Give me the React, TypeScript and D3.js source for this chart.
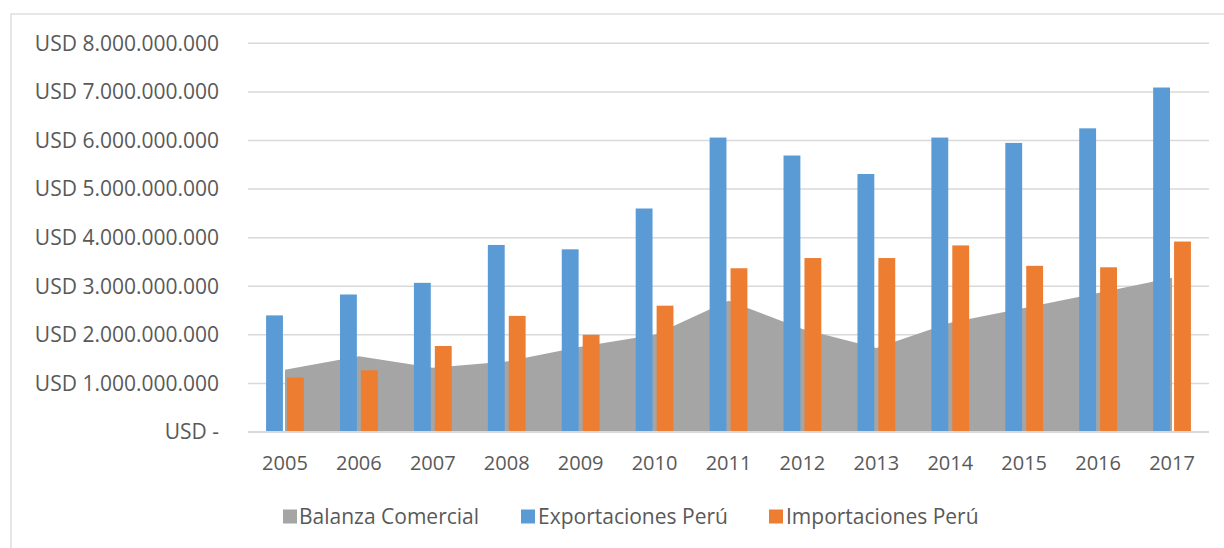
import React from "react";
import * as d3 from "d3";

const years = ["2005","2006","2007","2008","2009","2010","2011","2012","2013","2014","2015","2016","2017"];
const balanza = [1.28e9,1.56e9,1.32e9,1.45e9,1.755e9,2.0e9,2.70e9,2.12e9,1.73e9,2.25e9,2.55e9,2.86e9,3.175e9];
const exportaciones = [2.40e9,2.83e9,3.07e9,3.85e9,3.76e9,4.60e9,6.06e9,5.69e9,5.31e9,6.06e9,5.95e9,6.25e9,7.09e9];
const importaciones = [1.12e9,1.27e9,1.77e9,2.39e9,2.00e9,2.60e9,3.37e9,3.58e9,3.58e9,3.84e9,3.42e9,3.39e9,3.92e9];
const yTicks = [0,1e9,2e9,3e9,4e9,5e9,6e9,7e9,8e9];
const seriesNames = ["Balanza Comercial","Exportaciones Perú","Importaciones Perú"];
const colors = ["#a5a5a5","#5b9bd5","#ed7d31"];

const fmt = (v: number) => {
  if (v === 0) return "USD -";
  const s = Math.round(v).toString().replace(/\B(?=(\d{3})+(?!\d))/g, ".");
  return "USD " + s;
};

export default function App() {
  const W = 1224, H = 548;
  const left = 248, right = 1209, top = 43.3, bottom = 432;
  const x = d3.scaleBand<string>().domain(years).range([left, right]).paddingInner(0).paddingOuter(0);
  const y = d3.scaleLinear().domain([0, 8e9]).range([bottom, top]);
  const bw = x.bandwidth();
  const barW = bw * 0.228;
  const gap = bw * 0.055;
  const groupStart = (bw - (2 * barW + gap)) / 2;
  const cx = (i: number) => (x(years[i]) as number) + bw / 2;
  const area = d3.area<number>()
    .x((_, i) => cx(i))
    .y0(y(0))
    .y1((d) => y(d))
    .curve(d3.curveLinear);
  const font = "'Open Sans', sans-serif";
  const legendItems = [
    { sx: 283, tx: 299 },
    { sx: 521, tx: 538 },
    { sx: 769, tx: 786 },
  ];
  return (
    <svg width={W} height={H} style={{ position: "absolute", left: 0, top: 0, background: "#fff" }}>
      <rect x={11} y={14} width={W} height={H} fill="#fff" stroke="#d9d9d9" strokeWidth={1.3} />
      {yTicks.map((t) => (
        <g key={t}>
          <line x1={left} x2={right} y1={y(t)} y2={y(t)} stroke="#d9d9d9" strokeWidth={t === 0 ? 1.8 : 1.5} />
          <text x={219} y={y(t)} dy="0.35em" textAnchor="end" fontFamily={font} fontSize={21} fill="#595959">{fmt(t)}</text>
        </g>
      ))}
      <path d={area(balanza) || ""} fill={colors[0]} />
      {years.map((yr, i) => {
        const x0 = (x(yr) as number) + groupStart;
        return (
          <g key={yr}>
            <rect x={x0} y={y(exportaciones[i])} width={barW} height={y(0) - y(exportaciones[i])} fill={colors[1]} />
            <rect x={x0 + barW + gap} y={y(importaciones[i])} width={barW} height={y(0) - y(importaciones[i])} fill={colors[2]} />
          </g>
        );
      })}
      <line x1={left} x2={right} y1={y(0)} y2={y(0)} stroke="#d9d9d9" strokeWidth={1.8} />
      {years.map((yr, i) => (
        <text key={yr} x={cx(i)} y={463} dy="0.35em" textAnchor="middle" fontFamily={font} fontSize={20} fill="#595959">{yr}</text>
      ))}
      {seriesNames.map((n, i) => (
        <g key={n}>
          <rect x={legendItems[i].sx} y={509.5} width={14} height={14} fill={colors[i]} />
          <text x={legendItems[i].tx} y={516.5} dy="0.35em" fontFamily={font} fontSize={21} fill="#595959">{n}</text>
        </g>
      ))}
    </svg>
  );
}
